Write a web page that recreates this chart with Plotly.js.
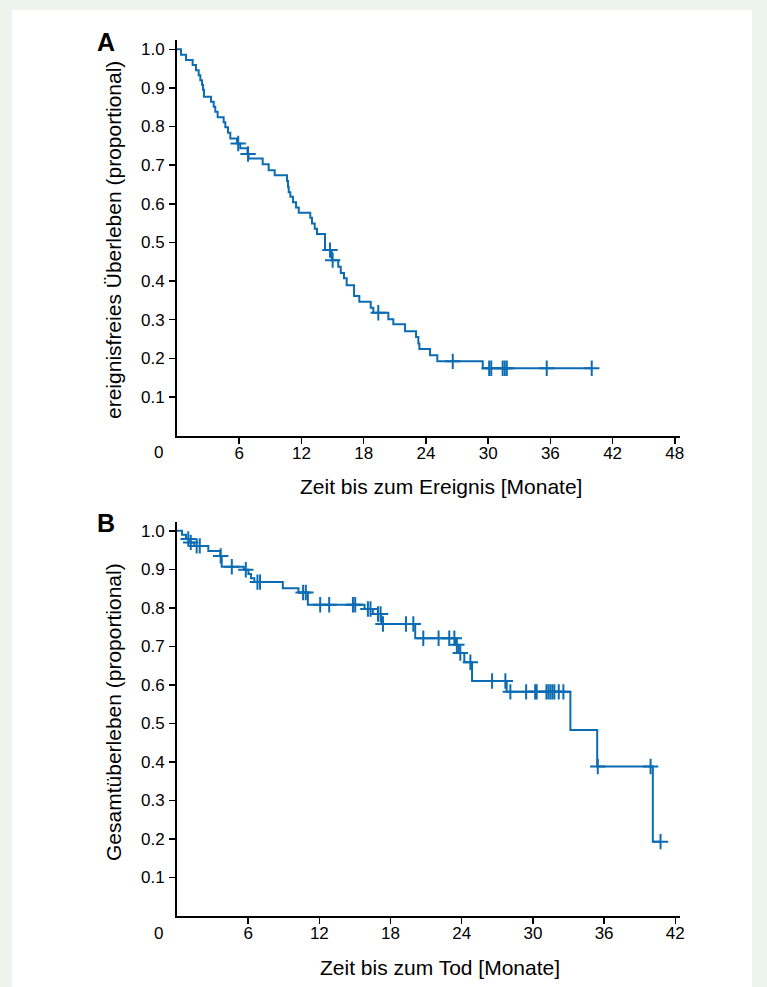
<!DOCTYPE html>
<html><head><meta charset="utf-8">
<script src="https://cdn.plot.ly/plotly-3.0.1.min.js"></script>
<style>html,body{margin:0;padding:0;background:#edf4ee;}#chart{width:767px;height:987px;}</style>
</head><body><div id="chart"></div>
<script>
// Panel A: event-free survival (Kaplan-Meier steps)
const eventTimesA = [0.39,0.87,1.51,1.83,2.09,2.25,2.41,2.51,2.60,3.28,3.54,3.69,3.92,4.50,4.66,4.92,5.14,5.79,6.10,6.80,6.90,8.26,8.84,9.42,10.61,10.70,10.77,10.93,11.19,11.48,11.74,12.85,13.02,13.28,13.50,14.27,14.92,15.55,15.79,16.10,16.36,17.07,17.58,18.68,18.93,20.38,20.86,21.99,23.05,23.27,23.37,24.40,25.10,29.48];
const survA = [0.986,0.972,0.959,0.946,0.933,0.920,0.908,0.895,0.877,0.864,0.851,0.838,0.824,0.811,0.798,0.784,0.769,0.756,0.744,0.729,0.717,0.702,0.687,0.674,0.659,0.644,0.630,0.618,0.604,0.590,0.577,0.564,0.549,0.535,0.522,0.480,0.454,0.437,0.421,0.407,0.389,0.361,0.346,0.331,0.318,0.301,0.288,0.270,0.255,0.238,0.224,0.208,0.192,0.174];
const censorA = [5.90,6.85,14.75,15.01,19.41,26.59,30.10,30.30,31.40,31.60,31.80,35.65,39.99];

// Panel B: overall survival
const eventTimesB = [0.42,0.76,1.12,1.46,2.64,3.65,3.77,5.63,6.02,6.24,6.52,8.92,10.24,11.03,15.81,16.51,17.22,20.08,23.52,23.74,24.22,24.87,27.79,33.16,35.42,40.11];
const survB = [0.990,0.979,0.970,0.961,0.948,0.935,0.907,0.899,0.888,0.877,0.867,0.851,0.840,0.808,0.797,0.784,0.758,0.721,0.704,0.683,0.659,0.610,0.582,0.483,0.388,0.193];
const censorB = [0.95,1.16,1.66,1.92,3.68,4.62,5.80,6.78,7.00,10.63,10.86,12.07,12.83,14.83,15.02,16.09,16.31,16.94,17.16,17.36,19.30,19.92,20.76,22.05,22.95,23.38,23.59,23.88,24.73,26.56,27.68,28.10,29.43,30.19,30.32,31.14,31.31,31.48,31.65,31.81,32.18,32.57,35.47,39.92,40.76];

const yTicks = [0.1,0.2,0.3,0.4,0.5,0.6,0.7,0.8,0.9,1.0];
const yTickText = ['0.1','0.2','0.3','0.4','0.5','0.6','0.7','0.8','0.9','1.0'];
const xTicksA = [6,12,18,24,30,36,42,48];
const xTicksB = [6,12,18,24,30,36,42];

const titleXA = 'Zeit bis zum Ereignis [Monate]';
const titleYA = 'ereignisfreies Überleben (proportional)';
const titleXB = 'Zeit bis zum Tod [Monate]';
const titleYB = 'Gesamtüberleben (proportional)';

const BLUE = '#0b6cb3';
const FONT = 'Liberation Sans, Arial, sans-serif';

function stepAt(times, surv, t){ let s=1; for(let i=0;i<times.length;i++){ if(times[i]<=t) s=surv[i]; } return s; }
function curve(times, surv, censors){
  const xs=[0], ys=[1];
  for(let i=0;i<times.length;i++){ xs.push(times[i]); ys.push(surv[i]); }
  const last = Math.max(censors[censors.length-1], times[times.length-1]);
  xs.push(last); ys.push(surv[surv.length-1]);
  return {xs, ys};
}
const cA = curve(eventTimesA, survA, censorA);
const cB = curve(eventTimesB, survB, censorB);

const traces = [
  {x:cA.xs, y:cA.ys, mode:'lines', line:{shape:'hv', color:BLUE, width:2}, xaxis:'x', yaxis:'y', hoverinfo:'skip'},
  {x:censorA, y:censorA.map(t=>stepAt(eventTimesA,survA,t)), mode:'markers', marker:{symbol:'cross-thin', size:11, color:BLUE, line:{color:BLUE, width:2}}, xaxis:'x', yaxis:'y'},
  {x:cB.xs, y:cB.ys, mode:'lines', line:{shape:'hv', color:BLUE, width:2}, xaxis:'x2', yaxis:'y2', hoverinfo:'skip'},
  {x:censorB, y:censorB.map(t=>stepAt(eventTimesB,survB,t)), mode:'markers', marker:{symbol:'cross-thin', size:11, color:BLUE, line:{color:BLUE, width:2}}, xaxis:'x2', yaxis:'y2'}
];

const W=767, H=987;
const px = v => v/W, py = v => 1 - v/H;

const axCommon = {showline:true, linecolor:'#000', linewidth:2, ticks:'outside', ticklen:6, tickwidth:1.5, tickcolor:'#000', showgrid:false, zeroline:false, tickfont:{family:FONT, size:17, color:'#000'}, fixedrange:true};
const xAx = Object.assign({}, axCommon, {ticklabelstandoff:-5});
const yAx = Object.assign({}, axCommon, {ticklabelstandoff:1});

function ann(text, x, y, size, extra){
  return Object.assign({text:text, x:px(x), y:py(y), xref:'paper', yref:'paper', showarrow:false, xanchor:'center', yanchor:'middle', font:{family:FONT, size:size, color:'#000'}}, extra||{});
}

const layout = {
  width:W, height:H, margin:{l:0,r:0,t:0,b:0},
  paper_bgcolor:'#edf4ee', plot_bgcolor:'rgba(0,0,0,0)', showlegend:false,
  font:{family:FONT, color:'#000'},
  xaxis: Object.assign({}, xAx, {domain:[px(177), px(680)], range:[0,48.5], tickvals:xTicksA, anchor:'y'}),
  yaxis: Object.assign({}, yAx, {domain:[py(435.5), py(40)], range:[0,1.024], tickvals:yTicks, ticktext:yTickText, anchor:'x'}),
  xaxis2: Object.assign({}, xAx, {domain:[px(177), px(680)], range:[0,42.4], tickvals:xTicksB, anchor:'y2'}),
  yaxis2: Object.assign({}, yAx, {domain:[py(916), py(522)], range:[0,1.023], tickvals:yTicks, ticktext:yTickText, anchor:'x2'}),
  shapes:[{type:'rect', xref:'paper', yref:'paper', x0:px(12), x1:px(752), y0:0, y1:py(10), fillcolor:'#ffffff', line:{width:0}, layer:'below'}],
  annotations:[
    ann('<b>A</b>', 106, 42, 25),
    ann('<b>B</b>', 106, 523, 25),
    ann('0', 158, 452, 17),
    ann('0', 158, 933, 17),
    ann(titleXA, 441, 486, 21),
    ann(titleXB, 440, 967, 21),
    ann(titleYA, 113, 240, 21, {textangle:-90}),
    ann(titleYB, 113, 712, 21, {textangle:-90})
  ]
};
Plotly.newPlot('chart', traces, layout, {displayModeBar:false, staticPlot:true});
</script></body></html>
